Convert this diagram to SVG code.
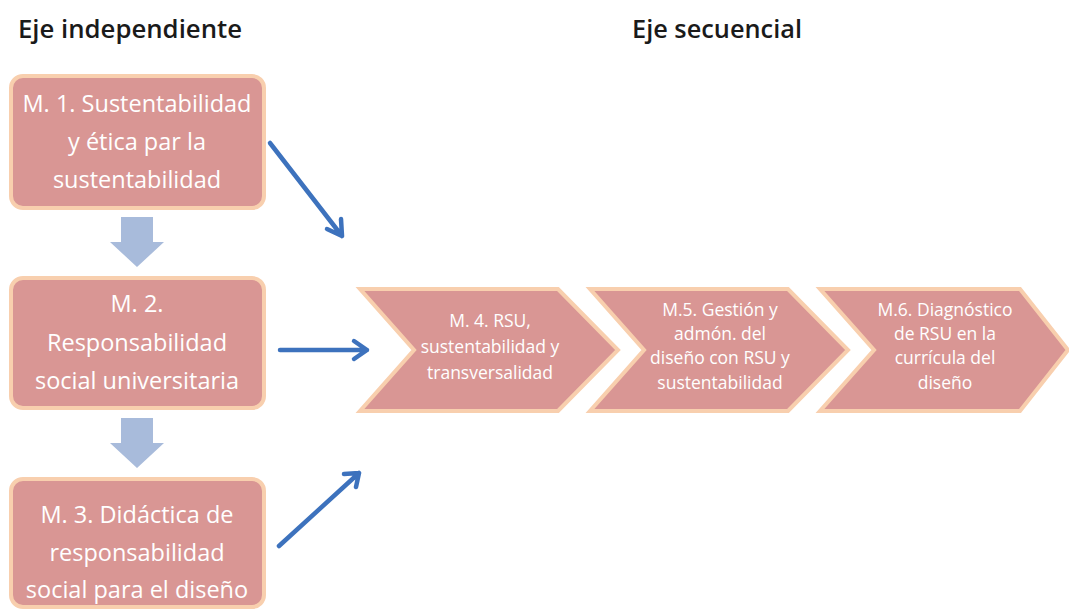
<svg xmlns="http://www.w3.org/2000/svg" width="1069" height="610" viewBox="0 0 1069 610">
<defs>
<style>
.box{fill:#D99694;stroke:#F8CFAE;stroke-width:4}
.bt{fill:#FFFFFF;font-family:"Open Sans","Liberation Sans",sans-serif;font-size:23.5px;text-anchor:middle}
.ct{fill:#FFFFFF;font-family:"Open Sans","Liberation Sans",sans-serif;font-size:17.5px;text-anchor:middle}
.title{fill:#1A1A1A;font-family:"Open Sans","Liberation Sans",sans-serif;font-size:26px;font-weight:600}
.blk{fill:#A8BBDB}
.con{stroke:#3D72BD;stroke-width:4.5;fill:none;stroke-linecap:round;stroke-linejoin:round}
</style>
</defs>
<rect width="1069" height="610" fill="#FFFFFF"/>
<text class="title" x="18" y="38" textLength="224" lengthAdjust="spacingAndGlyphs">Eje independiente</text>
<text class="title" x="632" y="38" textLength="170" lengthAdjust="spacingAndGlyphs">Eje secuencial</text>

<g id="m1">
<rect class="box" x="11" y="76" width="253" height="132" rx="12"/>
<text class="bt" x="137" y="112">M. 1. Sustentabilidad</text>
<text class="bt" x="137" y="150">y ética par la</text>
<text class="bt" x="137" y="188">sustentabilidad</text>
</g>
<g id="m2">
<rect class="box" x="11" y="278" width="253" height="130" rx="12"/>
<text class="bt" x="137" y="312">M. 2.</text>
<text class="bt" x="137" y="351">Responsabilidad</text>
<text class="bt" x="137" y="389">social universitaria</text>
</g>
<g id="m3">
<rect class="box" x="11" y="479" width="253" height="128" rx="12"/>
<text class="bt" x="137" y="523">M. 3. Didáctica de</text>
<text class="bt" x="137" y="561">responsabilidad</text>
<text class="bt" x="137" y="598">social para el diseño</text>
</g>
<g id="m4">
<polygon class="box" points="360,289 558,289 618,350 558,411 360,411 414,350"/>
<text class="ct" x="490" y="327">M. 4. RSU,</text>
<text class="ct" x="490" y="353">sustentabilidad y</text>
<text class="ct" x="490" y="379">transversalidad</text>
</g>
<g id="m5">
<polygon class="box" points="590,289 788,289 848,350 788,411 590,411 644,350"/>
<text class="ct" x="720" y="316">M.5. Gestión y</text>
<text class="ct" x="720" y="340">admón. del</text>
<text class="ct" x="720" y="364">diseño con RSU y</text>
<text class="ct" x="720" y="389">sustentabilidad</text>
</g>
<g id="m6">
<polygon class="box" points="820,289 1020,289 1068,350 1020,411 820,411 874,350"/>
<text class="ct" x="945" y="316">M.6. Diagnóstico</text>
<text class="ct" x="945" y="340">de RSU en la</text>
<text class="ct" x="945" y="364">currícula del</text>
<text class="ct" x="945" y="389">diseño</text>
</g>

<g id="connectors">
<polygon class="blk" points="121,217 153,217 153,242 164,242 137,267 110,242 121,242"/>
<polygon class="blk" points="121,418 153,418 153,443 164,443 137,468 110,443 121,443"/>
<path class="con" d="M270,143 L342,236 M327,229 L342,236 L341,219"/>
<path class="con" d="M280,350 L367,350 M354,341 L367,350 L354,359"/>
<path class="con" d="M279,546 L359,473 M344,474 L359,473 L356,487"/>
</g>
</svg>
